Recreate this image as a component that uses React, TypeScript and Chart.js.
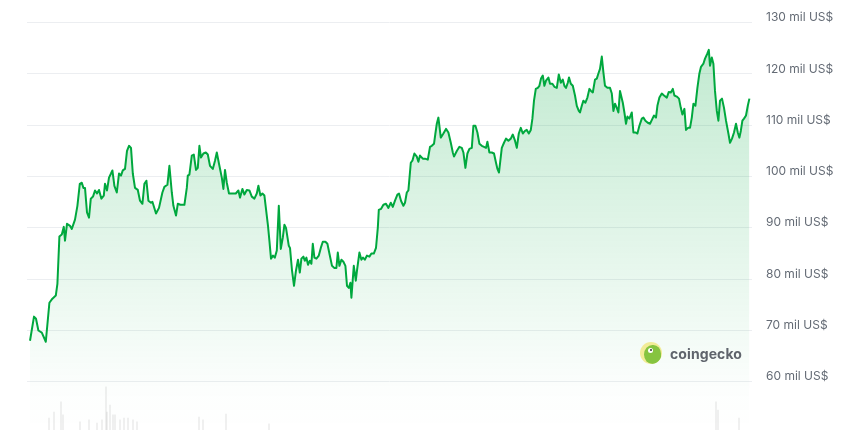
import React, { useEffect, useRef } from "react";
import { Chart, registerables } from "chart.js";

Chart.register(...registerables);

// Day offsets (from the start of the range) and Bitcoin price, in thousand US$
const priceDays = [
  0, 2, 3, 4.2, 5.9, 7.9, 9.7, 11.2, 12.9, 13.7, 14.7, 15.9, 16.9, 17.5, 18.5, 20, 20.9, 22.5, 23.7, 24.9,
  25.9, 26.7, 27.5, 28.5, 29.5, 30.4, 31.5, 32.5, 33.5, 34.5, 35.7, 36.9, 37.5, 38.5, 39.5, 40.5, 41.2, 42.2, 43.4, 44.5,
  45.5, 46.4, 47.5, 48.5, 49.5, 50.5, 51.4, 52.5, 53.9, 55, 56.2, 57.2, 58.2,
  59.2, 60.5, 61.2, 63, 64.5, 66.2, 67.2, 68.7, 69.7, 70.9, 71.7, 73, 73.9, 75.2, 77.2, 78.4, 78.9, 79.7, 80.9, 81.9,
  83, 83.9, 84.7, 85.5, 86.7, 87.9, 88.9, 90, 91.4, 92.5, 93.4, 94.5, 95.9, 96.7, 97.5, 98.4, 99.5, 101.2, 102.9, 104.2,
  105, 106.2, 107.2, 108.4, 109.7, 110.9, 112.2, 113.4, 114.2, 115.2, 116.2, 117.2,
  119, 119.7, 120.5, 121.5, 122.4, 123.4, 124.4, 125.4, 126.4, 127.2, 128, 129.4, 130, 131, 132, 133, 134, 134.9, 135.7,
  136.7, 137.4, 138.2, 139, 139.9, 140.7, 141.4, 142.2, 143.2, 144.4, 145.4, 146.4, 147.7, 148.7, 149.7, 151, 152.2,
  153.2, 153.9, 154.7, 155.7, 156.7, 157.7, 158.5, 159.4, 160.2, 160.7, 161.9, 162.9, 163.5, 164.7, 165.7, 166.5, 167.4,
  168.5, 169.7, 170.7, 171.9, 173, 173.9, 174.4, 175.5,
  176.7, 178, 179.2, 180.4, 181.4, 182.5, 183.7, 184.5, 185.5, 186.7, 187.5, 188.4, 189.2, 190.4, 191.2, 192.2, 193.4,
  194.2, 195, 196.4, 197.5, 198.9, 200, 200.9, 202, 202.7, 203.4, 204.2, 205.4, 206.7, 208, 209.2, 210.4, 211.4, 212,
  213.4, 214.7, 215.9, 216.7, 217.7, 218.7, 219.7, 220.9, 221.7, 222.7, 223.7, 224.7, 225.9, 227, 228, 228.7, 229.7,
  230.9, 232, 233, 233.7, 234.5,
  235.9, 237, 238, 239.2, 240.4, 241.4, 242.5, 243.4, 244.4, 245.4, 246.4, 247.5, 248.4, 249.4, 250.4, 251.2, 252, 252.9,
  253.9, 254.7, 255.5, 256.4, 257.2, 258, 259.2, 260, 261.2, 262.2, 263.4, 264.4, 265.4, 266.4, 267.2, 268, 268.9, 269.5,
  270.4, 271.4, 272.5, 273.4, 274.4, 275, 275.9, 276.7, 277.7, 278.7, 279.7, 280.5, 281.4, 282.5, 283.4, 284.2, 285,
  285.9, 286.7, 287.5, 288.7, 290, 290.9, 291.7, 292.5, 293.4, 294.2, 295,
  296.4, 297.2, 298, 298.7, 299.7, 300.9, 301.7, 302.7, 303.7, 304.7, 305.9, 306.7, 307.7, 308.9, 310, 311, 312, 313,
  313.7, 314.7, 315.9, 317, 318.4, 319.4, 320.4, 321.4, 322.2, 323.4, 324.5, 325.4, 326.2, 327.2, 328, 329, 330, 330.9,
  331.7, 332.7, 333.7, 334.7, 335.5, 336.7, 337.5, 338.7, 339.4, 340, 340.9, 341.7, 342.5, 343.4, 344.2, 345, 346, 347,
  348, 349.2, 350, 351, 352, 353, 353.9, 354.7, 355.4, 356.2, 357, 358, 358.9, 359.7,
];

const priceValues = [
  68.0, 72.7, 72.3, 70.0, 69.6, 67.8, 75.4, 76.2, 76.8, 79.1, 88.3, 88.7, 90.2, 87.5, 90.8, 90.4, 89.8, 91.6, 94.3, 98.6,
  98.8, 97.8, 97.8, 93.0, 92.0, 95.7, 96.1, 97.3, 96.7, 97.4, 95.7, 96.3, 98.6, 97.3, 99.8, 100.6, 101.2, 98.2, 96.9, 100.6,
  100.2, 101.2, 101.5, 105.0, 106.0, 105.6, 100.6, 97.8, 97.4, 95.3, 94.7, 98.6, 99.2,
  95.3, 94.9, 95.1, 92.8, 93.9, 96.9, 98.0, 98.4, 102.1, 96.9, 94.3, 92.4, 94.7, 94.5, 94.5, 97.8, 100.2, 100.4, 104.1, 104.3,
  101.3, 101.7, 106.0, 103.7, 104.5, 104.7, 104.3, 102.1, 101.5, 103.1, 104.7, 102.5, 99.8, 97.6, 101.3, 98.8, 96.7, 96.7, 96.7, 97.3,
  95.9, 97.6, 96.5, 97.4, 97.3, 96.1, 95.7, 96.7, 98.2, 96.3, 96.7, 96.3,
  90.4, 87.5, 84.0, 84.6, 84.2, 85.6, 94.3, 85.9, 88.1, 90.6, 90.0, 86.5, 86.1, 81.7, 78.7, 81.7, 83.8, 81.3, 84.0,
  84.4, 83.6, 84.2, 82.8, 83.6, 83.0, 86.9, 84.2, 84.0, 84.6, 86.1, 87.3, 87.3, 86.9, 85.0, 82.6, 82.2,
  82.2, 85.2, 82.6, 83.8, 83.4, 82.6, 78.7, 78.3, 79.3, 76.4, 82.6, 79.7, 81.7, 85.2, 83.8, 84.2, 83.8,
  84.6, 84.4, 85.0, 85.0, 86.1, 90.0, 93.5, 93.7,
  94.5, 94.7, 93.9, 94.9, 94.1, 95.3, 96.5, 96.7, 95.3, 94.3, 94.9, 96.9, 97.3, 102.7, 103.1, 104.5, 103.9,
  102.9, 104.1, 103.5, 103.5, 103.3, 105.8, 106.0, 106.4, 108.4, 110.3, 111.5, 107.6, 108.4, 109.3, 108.6, 106.6, 104.7, 103.9,
  105.0, 105.8, 105.6, 104.7, 101.7, 104.5, 105.4, 105.6, 109.9, 109.9, 108.6, 106.4, 106.0, 105.8, 105.6, 106.8, 104.7,
  104.7, 104.5, 102.7, 101.5, 100.8,
  105.6, 106.6, 107.4, 107.0, 107.4, 108.2, 107.0, 105.6, 108.4, 109.5, 108.4, 108.9, 109.1, 108.4, 109.1, 111.3, 114.8, 117.1,
  117.3, 117.7, 119.1, 119.7, 117.7, 118.7, 119.3, 118.1, 118.1, 117.5, 117.3, 119.9, 118.3, 118.9, 117.7, 117.3, 118.3, 119.3,
  118.1, 117.7, 115.8, 113.8, 112.8, 112.5, 113.8, 114.8, 114.4, 115.4, 117.1, 116.7, 116.4, 118.9, 119.1, 120.1, 121.0,
  123.4, 120.3, 117.7, 117.3, 117.3, 116.2, 112.8, 114.2, 113.4, 112.5, 116.7,
  114.4, 112.5, 110.3, 111.7, 111.3, 112.5, 108.6, 108.6, 108.4, 109.9, 111.3, 111.5, 110.9, 110.5, 110.3, 111.1, 111.9, 111.5,
  113.8, 115.4, 116.2, 115.8, 115.4, 116.5, 116.4, 117.1, 115.8, 115.6, 115.2, 113.4, 112.1, 113.2, 109.1, 109.5, 109.5, 111.5,
  114.2, 113.8, 117.3, 120.1, 121.4, 122.0, 123.0, 124.0, 124.7, 121.6, 123.2, 122.0, 116.7, 112.8, 110.9, 114.8, 115.2, 113.4,
  110.9, 108.4, 106.6, 107.4, 108.6, 110.3, 108.6, 107.6, 108.9, 110.9, 111.3, 111.9, 113.8, 115.2,
];

// Trading volume (billion US$) on the days whose bars show at the bottom
const volumeDays = [9.5, 12, 15.5, 16.5, 25, 29.5, 33.5, 36, 38, 38.5, 40, 41.5, 42.5, 45, 47, 49, 51.5, 53.5, 84.5, 86.5, 98, 119.5, 343, 344, 354.5];
const volumeValues = [29, 44, 69, 37, 20, 25, 17, 25, 106, 44, 61, 37, 37, 25, 29, 29, 25, 20, 32, 25, 39, 15, 69, 49, 29];

const priceTicks = [60, 70, 80, 90, 100, 110, 120, 130];

const FONT = "Inter, 'Noto Sans', 'DejaVu Sans', sans-serif";

export default function App() {
  const canvasRef = useRef<HTMLCanvasElement | null>(null);

  useEffect(() => {
    const canvas = canvasRef.current;
    if (!canvas) return;
    const chart = new Chart(canvas, {
      data: {
        datasets: [
          {
            type: "line",
            label: "Preço",
            data: priceDays.map((d, i) => ({ x: d, y: priceValues[i] })),
            borderColor: "#00a83e",
            borderWidth: 2,
            borderJoinStyle: "round",
            pointRadius: 0,
            tension: 0,
            fill: "start",
            backgroundColor: (ctx: any) => {
              const area = ctx.chart.chartArea;
              if (!area) return "rgba(0,168,62,0.12)";
              const g = ctx.chart.ctx.createLinearGradient(0, area.top, 0, area.bottom);
              g.addColorStop(0, "rgba(0,168,62,0.26)");
              g.addColorStop(0.9, "rgba(0,168,62,0.01)");
              g.addColorStop(1, "rgba(0,168,62,0)");
              return g;
            },
            xAxisID: "x",
            yAxisID: "y",
            order: 1,
          } as any,
          {
            type: "bar",
            label: "Volume",
            data: volumeDays.map((d, i) => ({ x: d, y: volumeValues[i] })),
            backgroundColor: "rgba(0,0,0,0.075)",
            barThickness: 1,
            xAxisID: "x",
            yAxisID: "yv",
            order: 2,
          } as any,
        ],
      },
      options: {
        animation: false,
        responsive: true,
        maintainAspectRatio: false,
        layout: { padding: { left: 19, top: 14.7, right: 0, bottom: 0 } },
        plugins: {
          legend: { display: false },
          tooltip: { enabled: false },
        },
        scales: {
          x: { type: "linear", display: false, offset: false, min: -1.5, max: 361 },
          y: {
            position: "right",
            min: 50.6,
            max: 130,
            afterBuildTicks: (s: any) => {
              s.ticks = priceTicks.map((v) => ({ value: v }));
            },
            afterFit: (s: any) => {
              s.width = 82;
              s.paddingTop = 0;
              s.paddingBottom = 0;
            },
            grid: { color: "#eceef1", lineWidth: 1, drawTicks: false },
            border: { display: false },
            ticks: {
              padding: 14,
              labelOffset: -5,
              color: "#646b75",
              font: { family: FONT, size: 12 },
              callback: (v: any) => `${v} mil US$`,
            },
          },
          yv: { display: false, min: 0, max: 1000 },
        },
      } as any,
    });
    return () => chart.destroy();
  }, []);

  return (
    <div style={{ position: "relative", width: "100%", height: 422 }}>
      <canvas ref={canvasRef} />
      <div
        style={{
          position: "absolute",
          left: 632,
          top: 334,
          display: "flex",
          alignItems: "center",
          gap: 8,
          pointerEvents: "none",
        }}
      >
        <div
          style={{
            position: "relative",
            width: 22,
            height: 22,
            borderRadius: "50%",
            background: "#f2ec98",
            overflow: "hidden",
          }}
        >
          <div
            style={{
              position: "absolute",
              left: 4,
              top: 3,
              width: 17,
              height: 19,
              borderRadius: "50% 45% 40% 50%",
              background: "#86c440",
            }}
          />
          <div
            style={{
              position: "absolute",
              left: 8,
              top: 6,
              width: 5,
              height: 5,
              borderRadius: "50%",
              background: "#ffffff",
            }}
          />
          <div
            style={{
              position: "absolute",
              left: 10,
              top: 7,
              width: 2,
              height: 2,
              borderRadius: "50%",
              background: "#333",
            }}
          />
        </div>
        <span
          style={{
            fontFamily: FONT,
            fontWeight: 700,
            fontSize: 14,
            color: "#5f646c",
            letterSpacing: 0.1,
          }}
        >
          coingecko
        </span>
      </div>
    </div>
  );
}
